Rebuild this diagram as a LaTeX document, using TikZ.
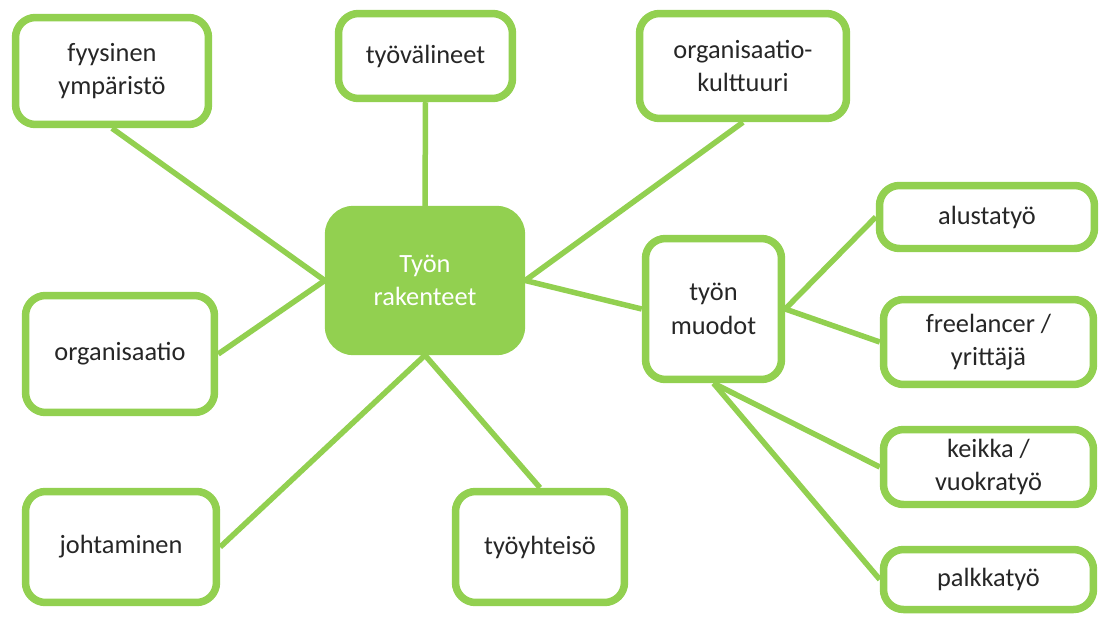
\documentclass[tikz,border=0pt]{standalone}
\usepackage{fontspec}
\setmainfont{Carlito}
\usepackage{xcolor}
\usepackage{tikz}
\definecolor{lgreen}{HTML}{92D050}

\begin{document}
\begin{tikzpicture}[x=0.02cm, y=-0.02cm, semithick,
  box/.style={draw=lgreen, line width=0.15cm, rounded corners=0.4cm, fill=white, align=center, text=black!85, inner sep=2pt},
  hub/.style={box, fill=lgreen, text=white, rounded corners=0.5cm},
  every edge/.style={draw=lgreen, line width=0.11cm},
  font=\fontsize{15}{19}\selectfont]
\useasboundingbox (0,0) rectangle (1103,616);

\node [hub, minimum width=3.86cm, minimum height=2.84cm] (r) at (425,280.5) {Työn\\rakenteet};
\node [box, minimum width=3.86cm, minimum height=2.14cm] (fy) at (112,71) {fyysinen\\ympäristö};
\node [box, minimum width=3.48cm, minimum height=1.70cm] (tv) at (425.5,56) {työvälineet};
\node [box, minimum width=4.14cm, minimum height=2.10cm] (ok) at (743,66) {organisaatio-\\kulttuuri};
\node [box, minimum width=3.78cm, minimum height=2.34cm] (or) at (120,354) {organisaatio};
\node [box, minimum width=3.82cm, minimum height=2.22cm] (jo) at (121,547) {johtaminen};
\node [box, minimum width=3.38cm, minimum height=2.22cm] (ty) at (540,547) {työyhteisö};
\node [box, minimum width=2.72cm, minimum height=2.82cm] (mu) at (713.5,309) {työn\\muodot};
\node [box, minimum width=4.30cm, minimum height=1.26cm] (al) at (987,217) {alustatyö};
\node [box, minimum width=4.20cm, minimum height=1.70cm] (fr) at (988.5,342) {freelancer /\\yrittäjä};
\node [box, minimum width=4.20cm, minimum height=1.50cm] (ke) at (988.5,467) {keikka /\\vuokratyö};
\node [box, minimum width=4.20cm, minimum height=1.20cm] (pa) at (988.5,579.5) {palkkatyö};

\path
(r.west) edge (fy.south)
(r.north) edge (tv.south)
(r.east) edge (ok.south)
(r.west) edge (or.east)
(r.south) edge (jo.east)
(r.south) edge (ty.north)
(r.east) edge (mu.west)
(mu.east) edge (al.west)
(mu.east) edge (fr.west)
(mu.south) edge (ke.west)
(mu.south) edge (pa.west);

\end{tikzpicture}
\end{document}
